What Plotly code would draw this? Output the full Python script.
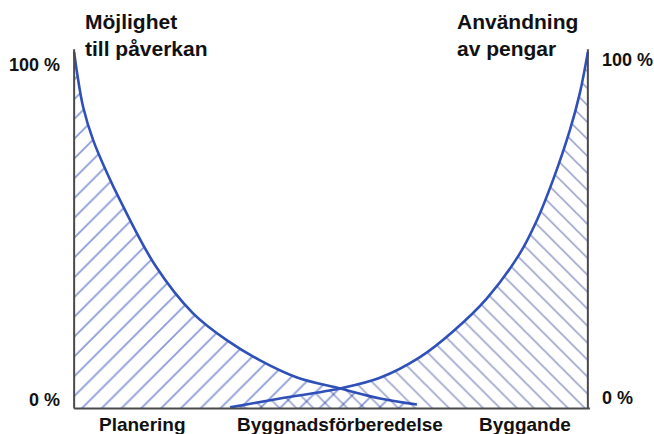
import plotly.graph_objects as go

# Project phase position (0 = start of planning, 100 = end of construction)
influence_x = [0, 0.58, 1.75, 3.7, 6.42, 8.95, 15.76, 23.15, 29.77, 36.19, 43.39, 51.75, 59.53, 66.73]
influence_y = [100, 94.1, 84.6, 75.3, 66.0, 58.4, 40.2, 26.7, 19.1, 13.5, 8.7, 5.6, 2.8, 1.1]

spending_x = [30.35, 40.08, 51.75, 59.53, 67.32, 73.74, 80.35, 86.77, 90.08, 93.19, 96.5, 98.44, 100]
spending_y = [0.3, 2.8, 5.6, 8.6, 14.4, 21.6, 30.9, 43.5, 52.8, 64.0, 78.1, 88.5, 100]

curve_titles = ["Möjlighet<br>till påverkan", "Användning<br>av pengar"]
scale_labels = ["0 %", "100 %"]
phase_names = ["Planering", "Byggnadsförberedelse", "Byggande"]
phase_centers = [13.4, 51.8, 87.7]

FONT = "Arial, 'Liberation Sans', sans-serif"
CURVE = "#2f50b8"
AXIS = "#4a4a4a"

fig = go.Figure()

# Influence curve, hatched "/" underneath
fig.add_trace(go.Scatter(
    x=influence_x, y=influence_y, mode="lines",
    line=dict(color=CURVE, width=2.6, shape="spline", smoothing=1.0),
    fill="tozeroy", fillcolor="rgba(0,0,0,0)",
    fillpattern=dict(shape="/", size=14, solidity=0.13,
                     fgcolor="#1a38b4", bgcolor="rgba(0,0,0,0)"),
    hoverinfo="skip", showlegend=False,
))

# Spending curve, hatched "\" underneath
fig.add_trace(go.Scatter(
    x=spending_x, y=spending_y, mode="lines",
    line=dict(color=CURVE, width=2.6, shape="spline", smoothing=1.0),
    fill="tozeroy", fillcolor="rgba(0,0,0,0)",
    fillpattern=dict(shape="\\", size=12, solidity=0.13,
                     fgcolor="#283590", bgcolor="rgba(0,0,0,0)"),
    hoverinfo="skip", showlegend=False,
))

# Frame: two vertical scales and the baseline
for x0, y0, x1, y1 in [(0, 0, 0, 100.8), (100, 0, 100, 100.8), (0, 0, 100.4, 0)]:
    fig.add_shape(type="line", xref="x", yref="y", x0=x0, y0=y0, x1=x1, y1=y1,
                  line=dict(color=AXIS, width=2))

ann = []
# scale labels on both sides
for xa, side, ypos, label in [(0, "right", 0.9455, scale_labels[1]),
                              (0, "right", 0.0327, scale_labels[0]),
                              (100, "left", 0.959, scale_labels[1]),
                              (100, "left", 0.038, scale_labels[0])]:
    ann.append(dict(x=xa, xref="x", xshift=-12 if side == "right" else 12,
                    xanchor=side, y=ypos, yref="paper", yanchor="middle",
                    text=f"<b>{label}</b>",
                    font=dict(family=FONT, size=18, color="#111")))

# curve titles
for xt, title in zip([1.75, 74.1], curve_titles):
    ann.append(dict(x=xt, xref="x", xanchor="left", y=1.1, yref="paper",
                    yanchor="top", align="left", text=f"<b>{title}</b>",
                    font=dict(family=FONT, size=21, color="#111")))

# phase names under the baseline
for xc, name in zip(phase_centers, phase_names):
    ann.append(dict(x=xc, xref="x", xanchor="center", y=-0.0327, yref="paper",
                    yanchor="middle", text=f"<b>{name}</b>",
                    font=dict(family=FONT, size=19, color="#111")))

fig.update_layout(
    width=654, height=434,
    margin=dict(l=69, r=61, t=45, b=22),
    paper_bgcolor="white", plot_bgcolor="white",
    xaxis=dict(range=[-1, 101], visible=False, fixedrange=True),
    yaxis=dict(range=[-1, 102], visible=False, fixedrange=True),
    annotations=[dict(showarrow=False, **a) for a in ann],
)

fig.write_html("out.html", config={"displayModeBar": False})
